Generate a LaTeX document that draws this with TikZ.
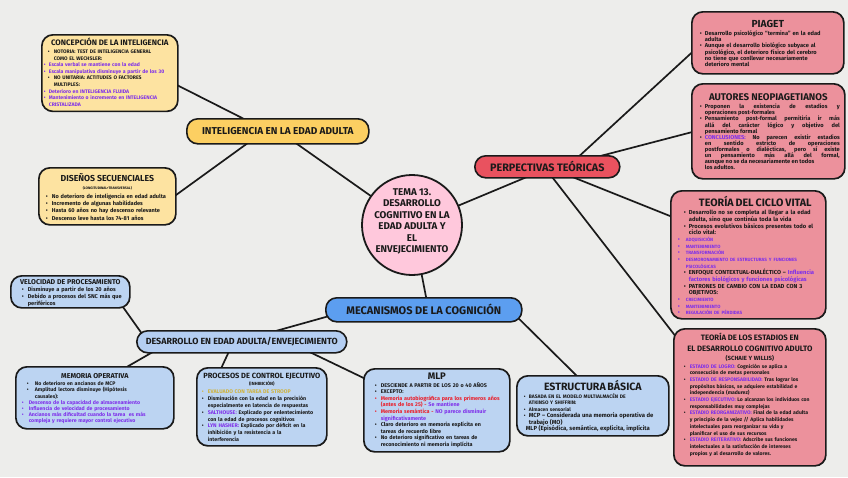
\documentclass[tikz,border=0pt]{standalone}
\usepackage{fontspec}
\setmainfont{Fira Sans}
\usetikzlibrary{calc,backgrounds}
\hyphenpenalty=10000
\exhyphenpenalty=10000
\definecolor{bg}{HTML}{EDEDEB}
\definecolor{ink}{HTML}{1A1A1A}
\definecolor{ylight}{HTML}{FDE3A1}
\definecolor{ypill}{HTML}{FCCF62}
\definecolor{blight}{HTML}{BCD4F2}
\definecolor{bpill}{HTML}{5C9EF0}
\definecolor{bpill2}{HTML}{B4CEF2}
\definecolor{rlight}{HTML}{EC919C}
\definecolor{rpill}{HTML}{E9525F}
\definecolor{pinkc}{HTML}{FFC8DC}
\definecolor{pur}{HTML}{7E2FEA}
\definecolor{redt}{HTML}{EA1E2A}
\definecolor{must}{HTML}{CFB23C}
\def\bulo{3pt}\def\bult{9pt}\def\pulo{0pt}\def\pult{6pt}
\newcommand\Bk[1]{\par\hangindent=\bult\hangafter=1\noindent\hbox to \bult{\hspace{\bulo}\textbullet\hss}#1}
\newcommand\Bp[1]{\par\hangindent=\pult\hangafter=1\noindent\hbox to \pult{\hspace{\pulo}\textcolor{pur}{\textbullet}\hss}\textcolor{pur}{#1}}
\newcommand\Bc[2]{\par\hangindent=\bult\hangafter=1\noindent\hbox to \bult{\hspace{\bulo}\textcolor{#1}{\textbullet}\hss}#2}
\newcommand\Ttl[2]{\par\noindent\hbox to \hsize{\hss\fontsize{#1}{#1}\selectfont #2\hss}\par}
\tikzset{
 box/.style={draw=ink, line width=1.7pt, rounded corners=11pt, anchor=north west, inner ysep=2pt, align=left, text=ink},
 pill/.style={draw=ink, line width=1.6pt, rounded corners=11pt, anchor=north west, inner sep=0pt, text=ink},
 link/.style={draw=ink, line width=1.7pt},
}
\begin{document}
\begin{tikzpicture}[x=1pt,y=-1pt]
\useasboundingbox (0,0) rectangle (848,477);

% central circle
\node[circle, draw=ink, line width=1.8pt, fill=pinkc, minimum size=100pt, inner sep=0pt] (c) at (412,225) {};
\node[align=center, text=ink, inner sep=0pt, font=\bfseries\fontsize{9.8}{11.4}\selectfont] (ctext) at ($(c)+(0,-3.5)$) {TEMA 13.\\DESARROLLO\\COGNITIVO EN LA\\EDAD ADULTA Y\\EL\\ENVEJECIMIENTO};

% pills
\node[pill, fill=ypill, minimum width=182pt, minimum height=25pt, font=\bfseries\fontsize{10}{12}\selectfont] (intel) at (186,118) {INTELIGENCIA EN LA EDAD ADULTA};
\node[pill, fill=rpill, minimum width=145pt, minimum height=22pt, font=\bfseries\fontsize{10.8}{12}\selectfont] (persp) at (474,155) {PERPECTIVAS TEÓRICAS};
\node[pill, fill=bpill, minimum width=196pt, minimum height=24pt, font=\bfseries\fontsize{11}{13}\selectfont] (mecan) at (325,297) {MECANISMOS DE LA COGNICIÓN};
\node[pill, fill=bpill2, minimum width=210pt, minimum height=22pt, font=\bfseries\fontsize{8.9}{11}\selectfont] (desarr) at (136,330) {DESARROLLO EN EDAD ADULTA/ENVEJECIMIENTO};

% yellow boxes
\node[box, fill=ylight, minimum width=136pt, minimum height=76pt, text width=132pt, inner xsep=2pt, font=\bfseries\fontsize{5.1}{6.6}\selectfont] (concep) at (41,34) {\def\bulo{4pt}\def\bult{10pt}\def\pulo{0pt}\def\pult{5pt}%
\Ttl{7.9}{CONCEPCIÓN DE LA INTELIGENCIA}\vspace{1.5pt}
\Bk{NOTORIA: TEST DE INTELIGENCIA GENERAL\newline COMO EL WECHSLER:}
\Bp{Escala verbal se mantiene con la edad}
\Bp{Escala manipulativa disminuye a partir de los 30}
\Bk{NO UNITARIA: ACTITUDES O FACTORES\newline MULTIPLES:}
\Bp{Deterioro en INTELIGENCIA FLUIDA}
\Bp{Mantenimiento o incremento en INTELIGENCIA\newline CRISTALIZADA}\par\vspace*{3pt}};

\node[box, fill=ylight, minimum width=137pt, minimum height=57pt, text width=129pt, inner xsep=4pt, font=\bfseries\fontsize{5.6}{7.4}\selectfont] (dis) at (38,167) {\def\bulo{3pt}\def\bult{9pt}%
\Ttl{8.7}{DISEÑOS SECUENCIALES}\vspace{1pt}
\Ttl{3.5}{(LONGITUDINAL+TRANSVERSAL)}\vspace{1pt}
\Bk{No deterioro de inteligencia en edad adulta}
\Bk{Incremento de algunas habilidades}
\Bk{Hasta 60 años no hay descenso relevante}
\Bk{Descenso leve hasta los 74-81 años}\par};

% blue boxes
\node[box, fill=blight, minimum width=119pt, minimum height=31pt, text width=107pt, inner xsep=6pt, inner ysep=1pt, font=\bfseries\fontsize{5.6}{7.2}\selectfont] (vel) at (10,275) {\def\bulo{5pt}\def\bult{11pt}%
\Ttl{7}{VELOCIDAD DE PROCESAMIENTO}
\Bk{Disminuye a partir de los 20 años}
\Bk{Debido a procesos del SNC más que\newline periféricos}\par};

\node[box, fill=blight, minimum width=158pt, minimum height=62pt, text width=148pt, inner xsep=5pt, font=\bfseries\fontsize{5.2}{6.1}\selectfont] (memop) at (15,366) {\def\bulo{6pt}\def\bult{14pt}\def\pulo{1pt}\def\pult{8pt}%
\Ttl{7.1}{MEMORIA OPERATIVA}\vspace{1.5pt}
\Bk{No deterioro en ancianos de MCP}
\Bk{Amplitud lectora disminuye (Hipótesis\newline causales):}
\Bp{Descenso de la capacidad de almacenamiento}
\Bp{Influencia de velocidad de procesamiento}
\Bp{Ancianos más dificultad cuando la tarea\ \ es más\newline compleja y requiere mayor control ejecutivo}\par};

\node[box, fill=blight, minimum width=130pt, minimum height=78pt, text width=124pt, inner xsep=3pt, font=\bfseries\fontsize{5.3}{6.8}\selectfont] (proc) at (196,367) {\def\bulo{2pt}\def\bult{8pt}%
\Ttl{7.5}{PROCESOS DE CONTROL EJECUTIVO}
\Ttl{4.5}{(INHIBICIÓN)}\vspace{1.5pt}
\Bc{must}{\textcolor{must}{EVALUADO CON TAREA DE STROOP}}
\Bk{Disminución con la edad en la precisión\newline especialmente en latencia de respuestas}
\Bk{\textcolor{pur}{SALTHOUSE:} Explicado por enlentecimiento\newline con la edad de procesos cognitivos}
\Bk{\textcolor{pur}{LYN HASHER:} Explicado por déficit en la\newline inhibición y la resistencia a la\newline interferencia}\par};

\node[box, fill=blight, minimum width=146pt, minimum height=83pt, text width=136pt, inner xsep=5pt, font=\bfseries\fontsize{5.4}{6.6}\selectfont] (mlp) at (363,368) {\def\bulo{6pt}\def\bult{12pt}%
\Ttl{9.5}{MLP}\vspace{1pt}
\Bk{DESCIENDE A PARTIR DE LOS 20 o 40 AÑOS}
\Bk{EXCEPTO:}
\Bc{redt}{\textcolor{redt}{Memoria autobiográfica para los primeros años\newline (antes de los 25) -} \textcolor{pur}{Se mantiene}}
\Bc{redt}{\textcolor{redt}{Memoria semántica -} \textcolor{pur}{NO parece disminuir\newline significativamente}}
\Bk{Claro deterioro en memoria explícita en\newline tareas de recuerdo libre}
\Bk{No deterioro significativo en tareas de\newline reconocimiento ni memoria implícita}\par};

\node[box, fill=blight, minimum width=152pt, minimum height=60pt, text width=144pt, inner xsep=4pt, font=\bfseries\fontsize{5}{6.5}\selectfont] (estr) at (516,375) {\def\bulo{3pt}\def\bult{8pt}%
\Ttl{10.6}{ESTRUCTURA BÁSICA}\vspace{1pt}
\Bk{BASADA EN EL MODELO MULTIALMACÉN DE\newline ATKINSO Y SHIFFRIN:}
\Bk{Almacen sensorial}
\Bk{{\fontsize{5.9}{6.5}\selectfont MCP – Considerada una memoria operativa de\newline trabajo (MO)}}
\par\noindent\hspace{5pt}{\fontsize{5.9}{6.5}\selectfont MLP (Episódica, semántica, explícita, implícita}\par};

% red boxes
\node[box, fill=rlight, minimum width=152pt, minimum height=62pt, text width=142pt, inner xsep=5pt, font=\bfseries\fontsize{5.7}{6}\selectfont] (piaget) at (691,11) {\def\bulo{3pt}\def\bult{8pt}%
\Ttl{10.2}{PIAGET}\vspace{2pt}
\Bk{Desarrollo psicológico “termina” en la edad\newline adulta}
\Bk{Aunque el desarrollo biológico subyace al\newline psicológico, el deterioro físico del cerebro\newline no tiene que conllevar necesariamente\newline deterioro mental}\par};

\node[box, fill=rlight, minimum width=153pt, minimum height=95pt, text width=143pt, inner xsep=5pt, align=justify, font=\bfseries\fontsize{5.7}{6.1}\selectfont] (autores) at (691,83) {\def\bulo{3pt}\def\bult{8pt}%
\Ttl{9.7}{AUTORES NEOPIAGETIANOS}\vspace{2pt}
\Bk{Proponen la existencia de estadios y\break operaciones post-formales}
\Bk{Pensamiento post-formal permitiría ir más\break allá del carácter lógico y objetivo del\break pensamiento formal}
\Bk{\textcolor{pur}{CONCLUSIONES:} No parecen existir estadios\break en sentido estricto de operaciones\break postformales o dialécticas, pero sí existe\break un pensamiento más allá del formal,\break aunque no se da necesariamente en todos\newline los adultos.}\par};

\node[box, fill=rlight, minimum width=155pt, minimum height=128pt, text width=145pt, inner xsep=5pt, font=\bfseries\fontsize{5.8}{6.67}\selectfont] (ciclo) at (670,190) {\def\bulo{8pt}\def\bult{13pt}\def\pulo{2pt}\def\pult{10pt}%
\Ttl{10.7}{\hspace*{14pt}TEORÍA DEL CICLO VITAL}\vspace{2pt}
\Bk{Desarrollo no se completa al llegar a la edad\newline adulta, sino que continúa toda la vida}
\Bk{Procesos evolutivos básicos presentes todo el\newline ciclo vital:}
\Bp{\fontsize{4.6}{6.67}\selectfont ADQUISICIÓN}
\Bp{\fontsize{4.6}{6.67}\selectfont MANTENIMIENTO}
\Bp{\fontsize{4.6}{6.67}\selectfont TRANSFORMACIÓN}
\Bp{\fontsize{4.6}{6.67}\selectfont DESMORONAMIENTO DE ESTRUCTURAS Y FUNCIONES\newline PSICOLÓGICAS}
\Bk{ENFOQUE CONTEXTUAL-DIALÉCTICO – \textcolor{pur}{Influencia\newline factores biológicos y funciones psicológicas}}
\Bk{PATRONES DE CAMBIO CON LA EDAD CON 3\newline OBJETIVOS:}
\Bp{\fontsize{4.6}{6.67}\selectfont CRECIMIENTO}
\Bp{\fontsize{4.6}{6.67}\selectfont MANTENIMIENTO}
\Bp{\fontsize{4.6}{6.67}\selectfont REGULACIÓN DE PÉRDIDAS}\par};

\node[box, fill=rlight, minimum width=152pt, minimum height=137pt, text width=142pt, inner xsep=5pt, font=\bfseries\fontsize{5.1}{6.7}\selectfont] (estad) at (673,328) {\def\bulo{5pt}\def\bult{11pt}%
\Ttl{7.8}{TEORÍA DE LOS ESTADIOS EN}\vspace{3.5pt}
\Ttl{7.8}{EL DESARROLLO COGNITIVO ADULTO}\vspace{2.5pt}
\Ttl{6}{(SCHAIE Y WILLIS)}\vspace{1pt}
\Bk{\textcolor{pur}{ESTADIO DE LOGRO:} Cognición se aplica a\newline consecución de metas personales}
\Bk{\textcolor{pur}{ESTADIO DE RESPONSABILIDAD:} Tras lograr los\newline propósitos básicos, se adquiere estabilidad e\newline independencia (madurez)}
\Bk{\textcolor{pur}{ESTADIO EJECUTIVO:} Lo alcanzan los individuos con\newline responsabilidades muy complejas}
\Bk{\textcolor{pur}{ESTADIO REORGANIZATIVO:} Final de la edad adulta\newline y principio de la vejez // Aplica habilidades\newline intelectuales para reorganizar su vida y\newline planificar el uso de sus recursos}
\Bk{\textcolor{pur}{ESTADIO REITERATIVO:} Adscribe sus funciones\newline intelectuales a la satisfacción de intereses\newline propios y al desarrollo de valores.}\par\vspace*{6pt}};

\begin{scope}[on background layer]
\fill[bg] (0,0) rectangle (848,477);
\draw[link] (c.center) -- ($(intel.north west)+(104,21)$);
\draw[link] (c.center) -- ($(persp.north west)+(60,19)$);
\draw[link] (c.center) -- ($(mecan.north west)+(103,10)$);
\draw[link] ($(concep.north west)+(126,46)$) -- ($(intel.north west)+(64,4)$);
\draw[link] ($(dis.north west)+(127,36)$) -- ($(intel.north west)+(66,22)$);
\draw[link] ($(persp.north west)+(101,5)$) -- ($(piaget.north west)+(9,34)$);
\draw[link] ($(persp.north west)+(111,5)$) -- ($(autores.north west)+(9,47)$);
\draw[link] ($(persp.north west)+(91,19)$) -- ($(ciclo.north west)+(10,30)$);
\draw[link] ($(persp.north west)+(75,18)$) -- ($(estad.north west)+(7,14)$);
\draw[link] ($(mecan.north west)+(15,16)$) -- ($(desarr.north west)+(129,4)$);
\draw[link] ($(mecan.north west)+(180,8)$) -- ($(estr.north west)+(64,4)$);
\draw[link] ($(vel.north west)+(108,25)$) -- ($(desarr.north west)+(9,8)$);
\draw[link] ($(memop.north west)+(103,6)$) -- ($(desarr.north west)+(29,15)$);
\draw[link] ($(proc.north west)+(22,8)$) -- ($(desarr.north west)+(96,15)$);
\draw[link] ($(mlp.north west)+(9,14)$) -- ($(desarr.north west)+(159,15)$);
\end{scope}
\end{tikzpicture}
\end{document}
